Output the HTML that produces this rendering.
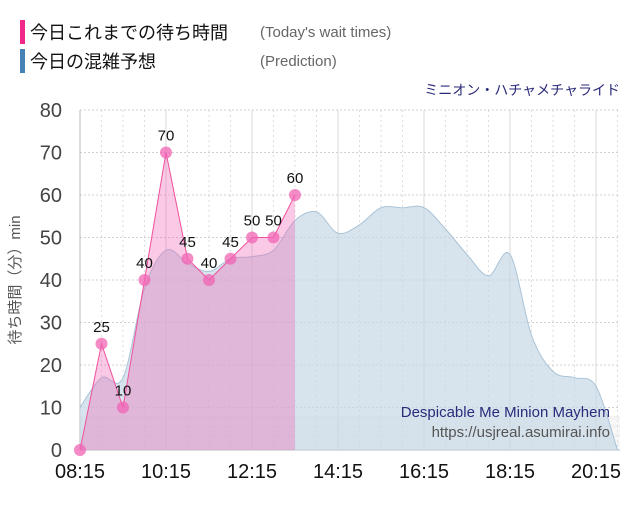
<!DOCTYPE html>
<html><head><meta charset="utf-8"><style>
body{margin:0;background:#fff;width:640px;height:500px;overflow:hidden;font-family:"Liberation Sans","Noto Sans CJK JP",sans-serif}
</style></head><body>
<svg width="640" height="500" xmlns="http://www.w3.org/2000/svg" font-family="Liberation Sans, Noto Sans CJK JP, sans-serif">
<rect x="20" y="20" width="5" height="24" fill="#f0288c"/>
<text x="30" y="39" font-size="18" fill="#111">今日これまでの待ち時間</text>
<text x="260" y="37" font-size="15" fill="#666">(Today's wait times)</text>
<rect x="20" y="49" width="5" height="24" fill="#4682b4"/>
<text x="30" y="68" font-size="18" fill="#111">今日の混雑予想</text>
<text x="260" y="66" font-size="15" fill="#666">(Prediction)</text>
<text x="620" y="95" font-size="14" fill="#2a2a7a" text-anchor="end">ミニオン・ハチャメチャライド</text>
<g id="plot"></g>
<text x="610" y="417" font-size="15" fill="#2a2a7a" text-anchor="end">Despicable Me Minion Mayhem</text>
<text x="610" y="437" font-size="15" fill="#555" text-anchor="end">https://usjreal.asumirai.info</text>
<text transform="translate(20,280) rotate(-90)" font-size="15" fill="#555" text-anchor="middle">待ち時間（分）min</text>
</svg>
<script>
const yTicks=[0,10,20,30,40,50,60,70,80];
const xTickLabels=["08:15","10:15","12:15","14:15","16:15","18:15","20:15"];
const todayValues=[0,25,10,40,70,45,40,45,50,50,60];
const predictionValues=[10,17,17,38,47,44,42,45,45.5,47,54,56,51,53,57,57,57,52,46,41,46,27,18.5,17,15,0];
const NS="http://www.w3.org/2000/svg";
const L=80,R=620,T=110,B=450,STEP=21.5;
const xs=i=>L+i*STEP;
const ys=v=>B-(v/80)*(B-T);
const g=document.getElementById('plot');
function mk(t,a,p){const e=document.createElementNS(NS,t);for(const k in a)e.setAttribute(k,a[k]);(p||g).appendChild(e);return e;}
for(let i=0;i<8;i++){
 const b=mk('rect',{x:L,y:ys(i+1),width:R-L,height:ys(i)-ys(i+1),fill:i%2?'#f3f3f3':'#f9f9f9'});
 
 
}
for(let i=0;i*STEP+L<=R;i++){
 const x=xs(i);
 const major=i%4===0;
 const l=mk('line',{x1:x,y1:T,x2:x,y2:B,stroke:major?'#d8d8d8':'#ddd','stroke-dasharray':major?'':'2,3'});
 
 
}
yTicks.forEach(v=>{
 const l=mk('line',{x1:L,y1:ys(v),x2:R,y2:ys(v),stroke:'#d0d0d0','stroke-dasharray':'2,2'});
 
 
 const t=mk('text',{x:62,y:ys(v)+7,'font-size':20,fill:'#444','text-anchor':'end'});
 t.textContent=v;
 
 
});
xTickLabels.forEach((s,i)=>{
 const t=mk('text',{x:xs(i*4),y:478,'font-size':20,fill:'#111','text-anchor':'middle'});
 t.textContent=s;
 
 
});
mk('line',{x1:L,y1:T,x2:L,y2:B,stroke:'#bbb'});
mk('line',{x1:L,y1:B,x2:R,y2:B,stroke:'#bbb'});
function smooth(vals){
 const p=vals.map((v,i)=>[xs(i),ys(v)]);
 let d=`M${p[0][0]},${p[0][1]}`;
 for(let i=0;i<p.length-1;i++){
  const p0=p[i-1]||p[i],p1=p[i],p2=p[i+1],p3=p[i+2]||p2;
  const c1=[p1[0]+(p2[0]-p0[0])/6,p1[1]+(p2[1]-p0[1])/6];
  const c2=[p2[0]-(p3[0]-p1[0])/6,p2[1]-(p3[1]-p1[1])/6];
  d+=` C${c1[0]},${c1[1]} ${c2[0]},${c2[1]} ${p2[0]},${p2[1]}`;
 }
 return d;
}
const pd=smooth(predictionValues);
const pa=mk('path',{d:pd+` L${xs(predictionValues.length-1)},${B} L${L},${B} Z`,fill:'#c8d8e6','fill-opacity':0.7});


const pl=mk('path',{d:pd,fill:'none',stroke:'#a9c3d8','stroke-width':1});


let td=todayValues.map((v,i)=>`${i?'L':'M'}${xs(i)},${ys(v)}`).join(' ');
const ta=mk('path',{d:td+` L${xs(todayValues.length-1)},${B} L${L},${B} Z`,fill:'#f064b4','fill-opacity':0.35});


const tl=mk('path',{d:td,fill:'none',stroke:'#f0509c','stroke-width':1});


todayValues.forEach((v,i)=>{
 const c=mk('circle',{cx:xs(i),cy:ys(v),r:6,fill:'#f064b4','fill-opacity':0.75});
 
 
 if(i>0){
  const t=mk('text',{x:xs(i),y:ys(v)-12,'font-size':15,fill:'#111','text-anchor':'middle'});
  t.textContent=v;
  
  
 }
});
</script>
</body></html>
